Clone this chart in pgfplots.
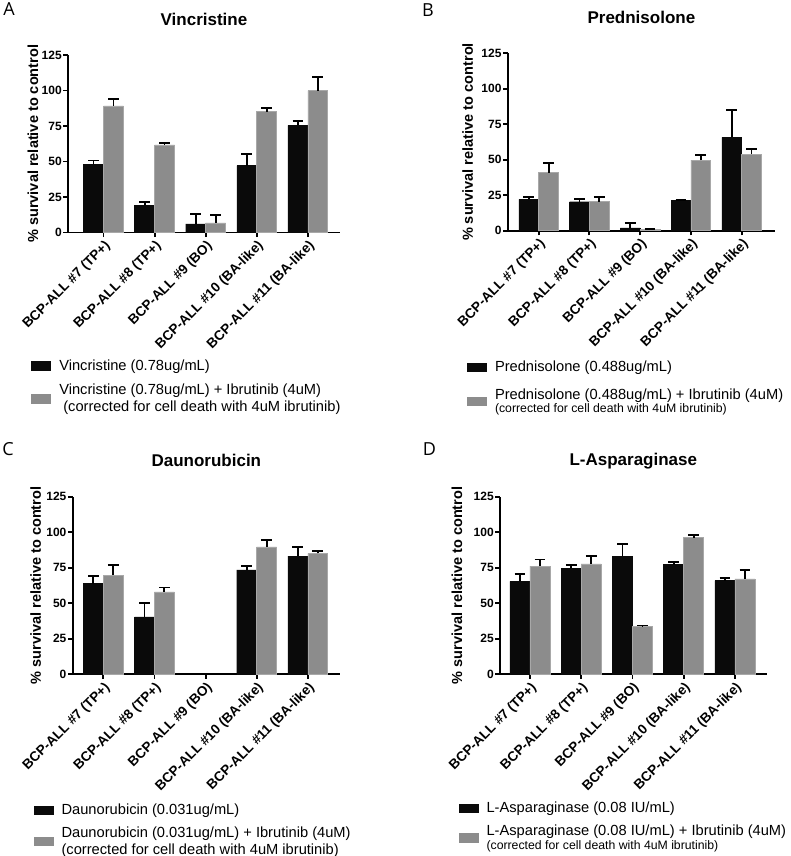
\documentclass[border=0pt]{standalone}
\usepackage{pgfplots}
\pgfplotsset{compat=1.18}
\usepackage{fontspec}
\setmainfont{Liberation Sans}
\newfontfamily\letterfont{Open Sans}
\definecolor{barblack}{HTML}{0A0A0A}
\definecolor{bargray}{HTML}{8C8C8C}
\definecolor{bargrayedge}{HTML}{A8A8A8}

\pgfplotsset{
 panel/.style={
  scale only axis, anchor=south west,
  ymin=0, ymax=125, ytick={0,25,50,75,100,125},
  xtick={0,1,2,3,4},
  xticklabels={BCP-ALL \#7 (TP+), BCP-ALL \#8 (TP+), BCP-ALL \#9 (BO), BCP-ALL \#10 (BA-like), BCP-ALL \#11 (BA-like)},
  axis x line*=bottom, axis y line*=left,
  axis line style={line width=1.4pt, -},
  major tick style={line width=1.4pt, black},
  tick align=outside, major tick length=3.5pt,
  ybar=0pt, bar width=0.39,
  /pgf/number format/assume math mode=true,
  yticklabel style={font=\bfseries\fontsize{9}{10}\selectfont, inner sep=1pt},
  xticklabel style={font=\bfseries\fontsize{10.2}{11}\selectfont, rotate=45, anchor=north east, inner sep=1pt},
  every axis y label/.style={at={(rel axis cs:0,0.5)}, rotate=90, anchor=center, font=\bfseries\fontsize{10.9}{12}\selectfont},
  title style={at={(rel axis cs:0.5,1)}, anchor=center, yshift=21pt, font=\bfseries\fontsize{12.75}{14}\selectfont},
  ylabel={\% survival relative to control},
  legend cell align=left,
  legend style={draw=none, fill=none, inner sep=0pt, at={(rel axis cs:0,0)}, anchor=north west,
     font=\fontsize{11}{13}\selectfont, cells={align=left}, row sep=6.75pt, column sep=5pt,
     nodes={inner sep=1pt}},
  legend image code/.code={\fill[##1, draw=none] (0pt,-3.4pt) rectangle (15pt,3.4pt);},
 },
 errbar/.style={error bars/.cd, y dir=plus, y explicit, error mark=-,
   error bar style={line width=1.4pt, black, solid},
   error mark options={rotate=90, line width=1.4pt, black, mark size=4pt}},
 blackbar/.style={fill=barblack, draw=barblack, line width=0.3pt, errbar},
 graybar/.style={fill=bargray, draw=bargrayedge, line width=0.4pt, errbar},
}

\begin{document}
\begin{tikzpicture}
\useasboundingbox (0pt,0pt) rectangle (592.5pt,-642pt);

% Panel A
\begin{axis}[panel, at={(51pt,-174.375pt)}, width=204pt, height=133.125pt,
  xmin=-0.695, xmax=4.63, title={Vincristine},
  ylabel style={yshift=26.25pt},
  legend style={xshift=-27.75pt, yshift=-94.2pt}]
\addplot[blackbar] coordinates {(0,48.1) +- (0,2.6) (1,19.2) +- (0,2.4) (2,6.1) +- (0,6.8) (3,47.1) +- (0,8.0) (4,75.5) +- (0,3.3)};
\addplot[graybar] coordinates {(0,89.1) +- (0,5.2) (1,61.7) +- (0,1.6) (2,6.8) +- (0,5.6) (3,85.1) +- (0,2.4) (4,99.9) +- (0,9.9)};
\addlegendentry{Vincristine (0.78ug/mL)}
\addlegendentry{Vincristine (0.78ug/mL) + Ibrutinib (4uM)\\\hspace*{0.278em}(corrected for cell death with 4uM ibrutinib)}
\end{axis}

% Panel B
\begin{axis}[panel, at={(380.8pt,-173.0pt)}, width=200.5pt, height=133.0pt,
  xmin=-0.61, xmax=4.66, title={Prednisolone},
  ylabel style={yshift=30pt},
  legend style={xshift=-30.75pt, yshift=-96.8pt, row sep=9pt}]
\addplot[blackbar] coordinates {(0,22.1) +- (0,1.9) (1,20.4) +- (0,1.7) (2,1.9) +- (0,3.7) (3,21.4) +- (0,0) (4,65.8) +- (0,19.5)};
\addplot[graybar] coordinates {(0,40.9) +- (0,6.6) (1,20.4) +- (0,3.1) (2,0.9) +- (0,0.3) (3,49.8) +- (0,3.8) (4,54.0) +- (0,3.8)};
\addlegendentry{Prednisolone (0.488ug/mL)}
\addlegendentry{Prednisolone (0.488ug/mL) + Ibrutinib (4uM)\\[-2.75pt]{\fontsize{9.2}{11}\selectfont (corrected for cell death with 4uM ibrutinib)}}
\end{axis}

% Panel C
\begin{axis}[panel, at={(54.5pt,-505.7pt)}, width=200.5pt, height=133.1pt,
  xmin=-0.60, xmax=4.63, title={Daunorubicin},
  ylabel style={yshift=27.75pt},
  legend style={xshift=-29.5pt, yshift=-96.0pt, row sep=5.7pt}]
\addplot[blackbar] coordinates {(0,63.9) +- (0,5.2) (1,40.4) +- (0,9.8) (3,73.5) +- (0,2.6) (4,83.3) +- (0,6.1)};
\addplot[graybar] coordinates {(0,69.8) +- (0,6.9) (1,58.0) +- (0,3.1) (3,89.7) +- (0,5.1) (4,85.2) +- (0,1.4)};
\addlegendentry{Daunorubicin (0.031ug/mL)}
\addlegendentry{Daunorubicin (0.031ug/mL) + Ibrutinib (4uM)\\[-0.5pt](corrected for cell death with 4uM ibrutinib)}
\end{axis}

% Panel D
\begin{axis}[panel, at={(375pt,-505.7pt)}, width=200pt, height=133.1pt,
  xmin=-0.585, xmax=4.62, title={L-Asparaginase},
  ylabel style={yshift=32.25pt},
  legend style={xshift=-31.3pt, yshift=-94.8pt, row sep=5.6pt}]
\addplot[blackbar] coordinates {(0,65.5) +- (0,5.2) (1,74.7) +- (0,2.3) (2,83.2) +- (0,8.6) (3,77.3) +- (0,1.6) (4,66.0) +- (0,2.1)};
\addplot[graybar] coordinates {(0,76.1) +- (0,4.7) (1,77.7) +- (0,5.4) (2,33.5) +- (0,0.9) (3,96.3) +- (0,1.7) (4,67.2) +- (0,6.1)};
\addlegendentry{L-Asparaginase (0.08 IU/mL)}
\addlegendentry{L-Asparaginase (0.08 IU/mL) + Ibrutinib (4uM)\\[-3pt]{\fontsize{9.2}{11}\selectfont (corrected for cell death with 4uM ibrutinib)}}
\end{axis}

\node[font=\letterfont\fontsize{13.5}{14}\selectfont] at (6.75pt,-6.75pt) {A};
\node[font=\letterfont\fontsize{13.5}{14}\selectfont] at (321pt,-7.3pt) {B};
\node[font=\letterfont\fontsize{13.5}{14}\selectfont] at (6pt,-336.75pt) {C};
\node[font=\letterfont\fontsize{13.5}{14}\selectfont] at (322.1pt,-336.75pt) {D};
\end{tikzpicture}
\end{document}
